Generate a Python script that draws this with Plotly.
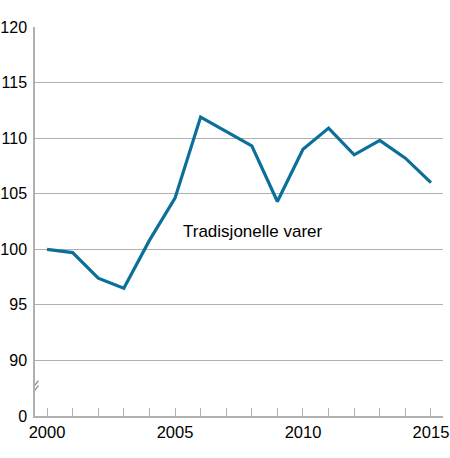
import plotly.graph_objects as go

# Tradisjonelle varer, indeks 2000 = 100
years = list(range(2000, 2016))
values = [100.0, 99.7, 97.4, 96.5, 100.8, 104.6, 111.9, 110.6, 109.3, 104.3,
          109.0, 110.9, 108.5, 109.8, 108.2, 106.0]
series_name = 'Tradisjonelle varer'

# y-akse med brudd: "0" vises på 85-plassen
y_tickvals = [85, 90, 95, 100, 105, 110, 115, 120]
y_ticktext = ['0', '90', '95', '100', '105', '110', '115', '120']
x_ticktext = [str(y) if y % 5 == 0 else '' for y in years]

grey = '#b0b0b0'
blue = '#0b6f99'

fig = go.Figure()
fig.add_trace(go.Scatter(
    x=years,
    y=values,
    mode='lines',
    name=series_name,
    line=dict(color=blue, width=3.2),
    showlegend=False,
))

fig.add_annotation(
    x=2005.22, y=101.6,
    text=series_name,
    showarrow=False,
    xanchor='left', yanchor='middle',
    font=dict(size=17, color='#000000'),
)

# brudd-tegn på y-aksen
for dy in (-3, 2):
    fig.add_shape(
        type='line',
        xref='x', yref='y',
        xsizemode='pixel', ysizemode='pixel',
        xanchor=1999.53, yanchor=87.6,
        x0=-3.5, x1=3.5, y0=-4.5 + dy, y1=4.5 + dy,
        line=dict(color='#888888', width=1.2),
    )

fig.update_xaxes(
    range=[1999.53, 2015.47],
    tickvals=years,
    ticktext=x_ticktext,
    ticks='inside',
    ticklen=8,
    tickwidth=1.3,
    tickcolor=grey,
    showline=True,
    linecolor=grey,
    linewidth=1.5,
    showgrid=False,
    zeroline=False,
    automargin=False,
    ticklabeloverflow='allow',
    tickfont=dict(size=16.5, color='#000000'),
)
fig.update_yaxes(
    range=[85, 120],
    tickvals=y_tickvals,
    ticktext=y_ticktext,
    ticks='',
    showline=True,
    linecolor=grey,
    linewidth=1.5,
    showgrid=True,
    gridcolor=grey,
    gridwidth=1.4,
    zeroline=False,
    automargin=False,
    ticklabeloverflow='allow',
    ticklabelstandoff=3,
    tickfont=dict(size=16, color='#000000'),
)

fig.update_layout(
    width=450,
    height=458,
    margin=dict(l=35, r=7, t=27, b=42),
    paper_bgcolor='white',
    plot_bgcolor='white',
    font=dict(family='Liberation Sans, Arial, sans-serif'),
)

# fjern standard body-marg slik at figuren står i hjørnet
fig.write_html('out.html', config={'displayModeBar': False},
               post_script="document.body.style.margin='0';")
